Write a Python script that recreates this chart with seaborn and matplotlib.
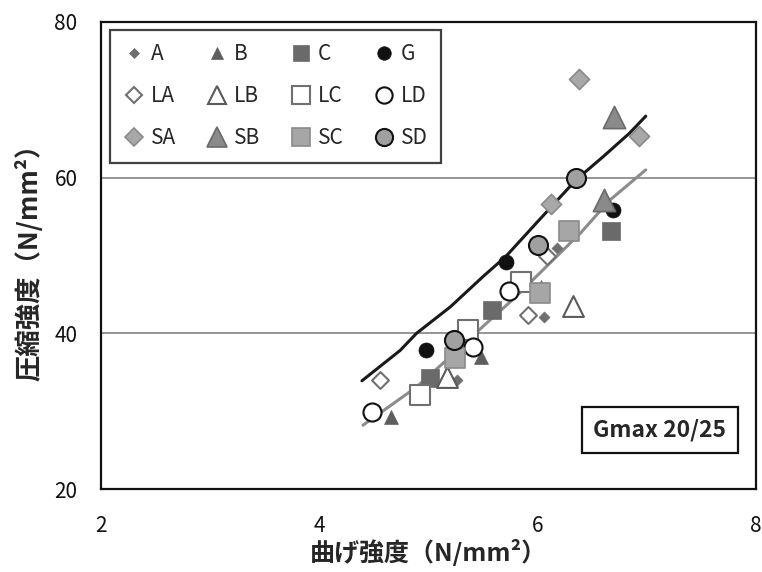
import numpy as np
import pandas as pd
import matplotlib
matplotlib.use("Agg")
import matplotlib.pyplot as plt
from matplotlib.lines import Line2D
import seaborn as sns

# ---- data ----
A_x = [5.26, 6.06, 6.18]
A_y = [34.0, 42.1, 50.9]
B_x = [4.66, 5.48, 6.03]
B_y = [29.2, 36.9, 45.9]
C_x = [5.01, 5.58, 6.67]
C_y = [34.2, 43.0, 53.1]
G_x = [4.98, 5.71, 6.69]
G_y = [37.9, 49.2, 55.9]
LA_x = [4.56, 5.91, 6.09]
LA_y = [34.0, 42.4, 49.9]
LB_x = [5.17, 6.32]
LB_y = [34.4, 43.5]
LC_x = [4.92, 5.36, 5.85]
LC_y = [32.1, 40.4, 46.6]
LD_x = [4.48, 5.41, 5.74]
LD_y = [29.9, 38.3, 45.4]
SA_x = [6.12, 6.38, 6.93]
SA_y = [56.6, 72.7, 65.3]
SB_x = [6.61, 6.70]
SB_y = [57.1, 67.8]
SC_x = [5.24, 6.02, 6.29]
SC_y = [36.8, 45.2, 53.1]
SD_x = [5.23, 6.00, 6.35]
SD_y = [39.2, 51.4, 59.9]

# trend lines
black_x = [4.39, 4.74, 4.89, 5.20, 5.50, 5.71, 5.99, 6.35, 6.60, 6.84, 6.99]
black_y = [33.9, 37.8, 40.0, 43.4, 47.3, 49.9, 54.2, 59.7, 62.7, 65.7, 67.9]
gray_x = [4.40, 4.89, 5.20, 5.50, 5.80, 6.11, 6.40, 6.66, 6.99]
gray_y = [28.2, 33.1, 37.0, 40.9, 44.7, 49.0, 53.0, 57.1, 61.0]

x_ticks = [2, 4, 6, 8]
y_ticks = [20, 40, 60, 80]

series = {
    "A": (A_x, A_y), "B": (B_x, B_y), "C": (C_x, C_y), "G": (G_x, G_y),
    "LA": (LA_x, LA_y), "LB": (LB_x, LB_y), "LC": (LC_x, LC_y), "LD": (LD_x, LD_y),
    "SA": (SA_x, SA_y), "SB": (SB_x, SB_y), "SC": (SC_x, SC_y), "SD": (SD_x, SD_y),
}

# style: marker, size(pt), face, edge, edge width
styles = {
    "A":  ("D", 5.6,  "#6e6e6e", "#6e6e6e", 0.5),
    "B":  ("^", 10.0, "#5e5e5e", "#5e5e5e", 0.5),
    "C":  ("s", 13.0, "#6a6a6a", "#6a6a6a", 0.5),
    "G":  ("o", 10.8, "#111111", "#111111", 0.5),
    "LA": ("D", 8.6,  "white",   "#707070", 1.5),
    "LB": ("^", 15.0, "white",   "#5a5a5a", 1.5),
    "LC": ("s", 14.0, "white",   "#707070", 1.5),
    "LD": ("o", 13.0, "white",   "#111111", 1.5),
    "SA": ("D", 10.2, "#a8a8a8", "#8a8a8a", 1.2),
    "SB": ("^", 16.0, "#8a8a8a", "#6a6a6a", 1.2),
    "SC": ("s", 14.4, "#a6a6a6", "#8a8a8a", 1.2),
    "SD": ("o", 13.7, "#a0a0a0", "#111111", 1.5),
}

sns.set_style("white")
plt.rcParams["font.family"] = ["Noto Sans CJK JP", "DejaVu Sans"]

fig = plt.figure(figsize=(7.62, 5.72), dpi=100)
ax = fig.add_axes([101/762, 1-489/572, 655/762, 467/572])

# grid lines
for gy in [40, 60]:
    ax.axhline(gy, color="#8c8c8c", lw=1.3, zorder=0)

# trend lines
lines_df = pd.DataFrame({"x": black_x, "y": black_y})
sns.lineplot(data=lines_df, x="x", y="y", sort=False, color="#1a1a1a", lw=2.2, ax=ax, zorder=2)
lines_df2 = pd.DataFrame({"x": gray_x, "y": gray_y})
sns.lineplot(data=lines_df2, x="x", y="y", sort=False, color="#8c8c8c", lw=2.2, ax=ax, zorder=2)

for name, (xs, ys) in series.items():
    m, sz, fc, ec, lw = styles[name]
    df = pd.DataFrame({"x": xs, "y": ys})
    sns.scatterplot(data=df, x="x", y="y", marker=m, s=sz**2, color=fc,
                    edgecolor=ec, linewidth=lw, ax=ax, zorder=3)

ax.set_xlim(2, 8)
ax.set_ylim(20, 80)
ax.set_xticks(x_ticks)
ax.set_yticks(y_ticks)
ax.tick_params(axis="x", direction="in", length=7, width=1.2, pad=19, labelsize=15, colors="#111111")
ax.tick_params(axis="y", length=0, pad=17, labelsize=15, colors="#111111")
for sp in ax.spines.values():
    sp.set_color("#111111")
    sp.set_linewidth(1.6)

ax.set_xlabel("曲げ強度（N/mm²）", fontsize=18, fontweight="bold", labelpad=1)
ax.set_ylabel("圧縮強度（N/mm²）", fontsize=19, fontweight="bold", labelpad=8)

# legend (row-wise reading order -> column-major for matplotlib)
order = ["A", "LA", "SA", "B", "LB", "SB", "C", "LC", "SC", "G", "LD", "SD"]
handles = []
for name in order:
    m, sz, fc, ec, lw = styles[name]
    handles.append(Line2D([], [], ls="none", marker=m, markersize=sz*0.9,
                          markerfacecolor=fc, markeredgecolor=ec, markeredgewidth=lw))
leg = ax.legend(handles, order, ncol=4, loc="upper left",
                bbox_to_anchor=(0.014, 0.983), fontsize=15, frameon=True,
                fancybox=False, edgecolor="#111111", handlelength=1.0,
                handletextpad=0.3, columnspacing=1.47, labelspacing=0.95,
                borderpad=0.65, borderaxespad=0)
leg.get_frame().set_linewidth(1.6)

ax.text(0.853, 0.126, "Gmax 20/25", transform=ax.transAxes, ha="center", va="center",
        fontsize=16.5, fontweight="bold",
        bbox=dict(boxstyle="square,pad=0.5", fc="white", ec="#111111", lw=1.6))

fig.savefig("out.png", dpi=100)
